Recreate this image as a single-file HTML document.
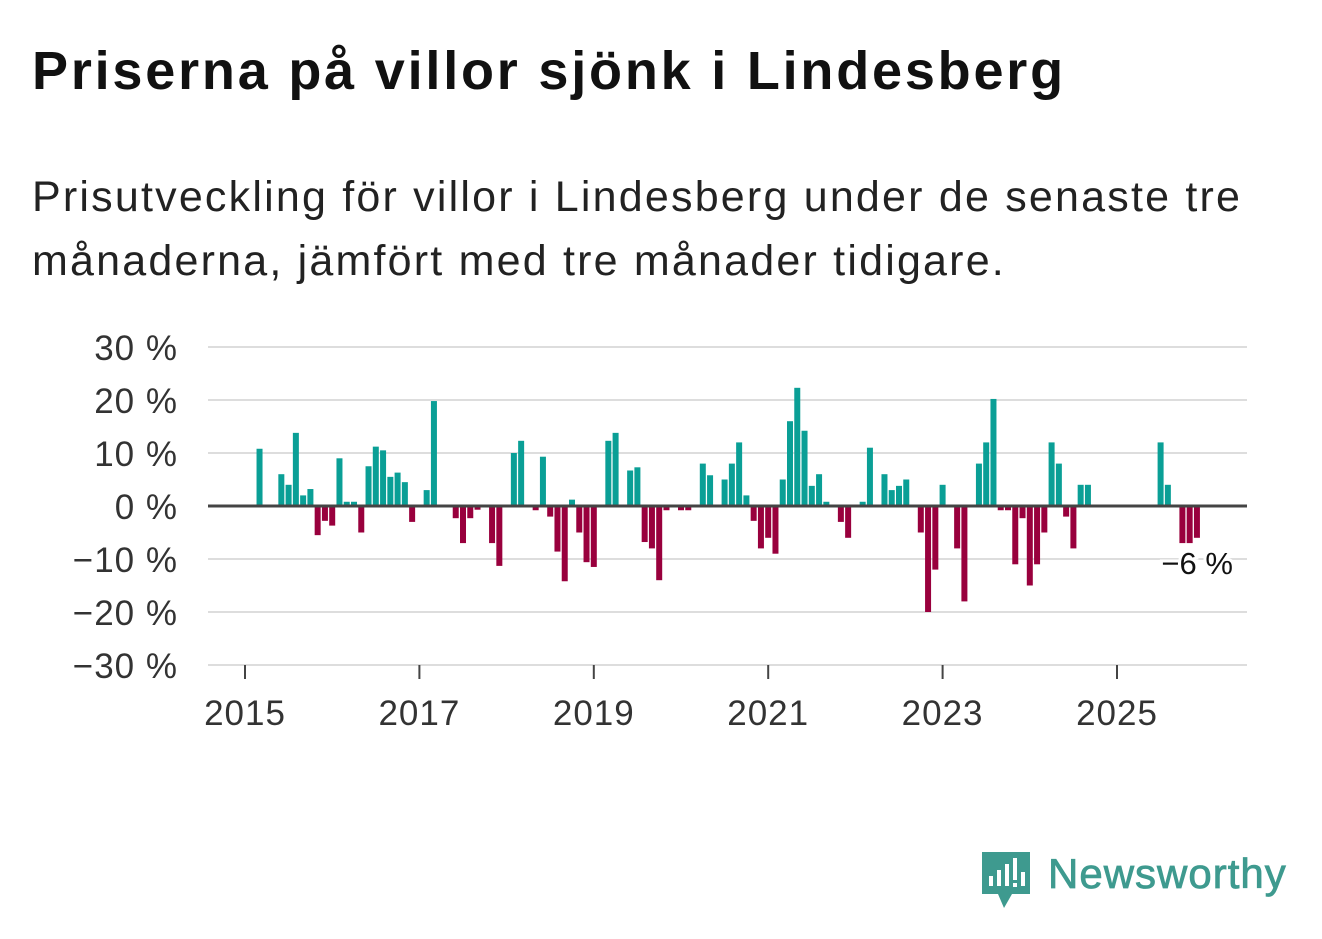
<!DOCTYPE html>
<html><head><meta charset="utf-8">
<style>
body{margin:0;width:1322px;height:939px;background:#fff;font-family:"Liberation Sans","DejaVu Sans",sans-serif;overflow:hidden;position:relative}
h1{position:absolute;left:32px;top:40px;margin:0;font-size:54px;font-weight:bold;color:#111;letter-spacing:2.8px;white-space:nowrap}
p{position:absolute;left:32px;top:165px;margin:0;font-size:43px;line-height:64px;color:#222;width:1250px;letter-spacing:2.2px}
svg{position:absolute;left:0;top:0}
</style></head><body>
<h1>Priserna på villor sjönk i Lindesberg</h1>
<p>Prisutveckling för villor i Lindesberg under de senaste tre<br>månaderna, jämfört med tre månader tidigare.</p>
<svg width="1322" height="939">
<g id="grid"></g><g id="bars"></g><g id="axes"></g>
<g>
<path d="M982 852 h48 v42 h-18 l-8 14 l-6 -14 h-16 z" fill="#3e9a8f"/>
<rect x="989" y="876" width="4" height="10" fill="#fff"/><rect x="997" y="870" width="4" height="16" fill="#fff"/><rect x="1005" y="864" width="4" height="22" fill="#fff"/><rect x="1013" y="858" width="4" height="22" fill="#fff"/><rect x="1013" y="883" width="4" height="4" fill="#fff"/><rect x="1021" y="872" width="4" height="14" fill="#fff"/>
<text x="1048" y="888" font-size="42" fill="#3e9a8f" letter-spacing="1" stroke="#3e9a8f" stroke-width="0.8" font-family="Liberation Sans, sans-serif">Newsworthy</text>
</g>
</svg>
<script>
const months=[2,5,6,7,8,9,10,11,12,13,14,15,16,17,18,19,20,21,22,23,25,26,29,30,31,32,34,35,37,38,40,41,42,43,44,45,46,47,48,50,51,53,54,55,56,57,58,60,61,63,64,66,67,68,69,70,71,72,73,74,75,76,77,78,79,80,82,83,85,86,88,89,90,91,93,94,95,96,98,99,101,102,103,104,105,106,107,108,109,110,111,112,113,114,115,116,126,127,129,130,131];
const values=[10.8,6,4,13.8,2,3.2,-5.5,-2.8,-3.7,9,0.8,0.8,-5,7.5,11.2,10.5,5.5,6.3,4.5,-3,3,19.8,-2.3,-7,-2.3,-0.7,-7,-11.3,10,12.3,-0.8,9.3,-2,-8.6,-14.2,1.2,-5,-10.6,-11.5,12.3,13.8,6.7,7.3,-6.8,-8,-14,-0.8,-0.8,-0.8,8,5.8,5,8,12,2,-2.8,-8,-6,-9,5,16,22.3,14.2,3.8,6,0.8,-3,-6,0.8,11,6,3,3.8,5,-5,-20,-12,4,-8,-18,8,12,20.2,-0.8,-0.8,-11,-2.3,-15,-11,-5,12,8,-2,-8,4,4,12,4,-7,-7,-6];
const yTicks=[30,20,10,0,-10,-20,-30];
const yTickLabels=["30 %","20 %","10 %","0 %","−10 %","−20 %","−30 %"];
const years=[2015,2017,2019,2021,2023,2025];
const lastLabel="−6 %";
const NS="http://www.w3.org/2000/svg";
const X0=245,PXM=87.2/12,Y0=506,PXP=159/30,L=208,R=1247;
const x=m=>X0+m*PXM, y=v=>Y0-v*PXP;
function mk(t,a,p){const e=document.createElementNS(NS,t);for(const k in a)e.setAttribute(k,a[k]);p.appendChild(e);return e;}
const G=document.getElementById('grid'),B=document.getElementById('bars'),A=document.getElementById('axes');
yTicks.forEach((v,i)=>{
 if(v!==0){const l=mk('line',{x1:L,x2:R,y1:y(v),y2:y(v),stroke:'#ddd','stroke-width':2},G);
 
 }
 const t=mk('text',{x:178,y:y(v)+13,'text-anchor':'end','font-size':35,'letter-spacing':1,fill:'#333'},A);t.textContent=yTickLabels[i];
 
 
});
months.forEach((m,i)=>{const v=values[i];
 const r=mk('rect',{x:x(m)-3,width:6,y:v>=0?y(v):Y0,height:Math.abs(v)*PXP,fill:v>=0?'#0a9f96':'#99003d'},B);
 
 
});
const z=mk('line',{x1:L,x2:R,y1:Y0,y2:Y0,stroke:'#444','stroke-width':3},A);


years.forEach(yr=>{const xx=x((yr-2015)*12);
 const tk=mk('line',{x1:xx,x2:xx,y1:665,y2:679,stroke:'#444','stroke-width':2},A);
 
 
 const t=mk('text',{x:xx,y:725,'text-anchor':'middle','font-size':35,'letter-spacing':1,fill:'#333'},A);t.textContent=yr;
 
 
});
const lm=months[months.length-1],lv=values[values.length-1];
const lb=mk('text',{x:x(lm)+36,y:y(lv)+36,'text-anchor':'end','font-size':31,fill:'#111',stroke:'#fff','stroke-width':6,'paint-order':'stroke'},A);
lb.textContent=lastLabel;


</script>
</body></html>
